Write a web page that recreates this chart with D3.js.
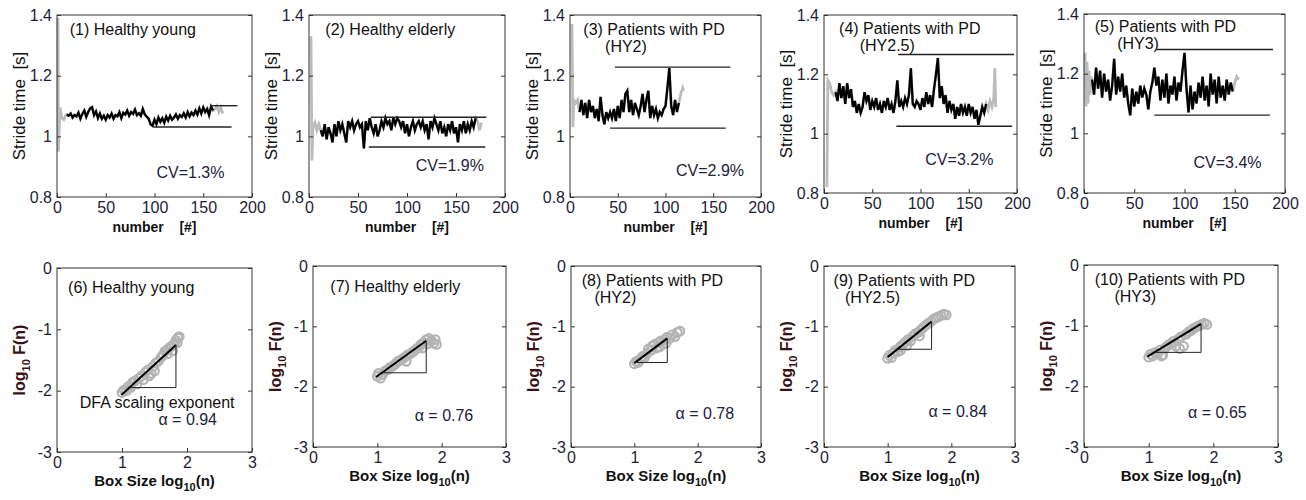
<!DOCTYPE html>
<html>
<head>
<meta charset="utf-8">
<script src="https://cdn.jsdelivr.net/npm/d3@7"></script>
<style>
body { margin: 0; background: #fff; }
text { font-family: "Liberation Sans", Arial, sans-serif; }
</style>
</head>
<body>
<div id="chart"></div>
<script>
// ---- data: stride time series (black = analysed part, every 2nd stride) ----
var blackStart = [10, 12, 10, 12, 8];
var black1 = [1.072,1.068,1.075,1.062,1.070,1.066,1.078,1.058,1.074,1.085,1.064,1.080,1.092,1.096,1.070,1.082,1.060,1.075,1.058,1.068,
              1.055,1.070,1.062,1.075,1.058,1.070,1.066,1.080,1.060,1.078,1.072,1.085,1.068,1.080,1.074,1.088,1.070,1.076,1.068,1.090,
              1.072,1.065,1.058,1.040,1.035,1.055,1.040,1.062,1.048,1.060,1.045,1.065,1.052,1.068,1.055,1.062,1.072,1.058,1.070,1.064,
              1.076,1.062,1.080,1.066,1.078,1.070,1.085,1.072,1.092,1.075,1.095,1.080,1.090,1.070,1.098,1.085];
var black2 = [1.02,1.00,1.04,0.99,1.03,1.01,0.98,1.04,1.00,1.05,1.02,1.04,1.01,0.98,1.05,1.03,1.05,1.02,1.04,1.05,
              1.03,1.04,0.96,1.05,1.02,1.06,1.03,1.01,1.04,1.00,1.02,1.05,1.03,1.06,1.04,1.05,1.02,1.06,1.04,1.06,
              1.05,1.03,1.05,1.01,1.04,1.00,1.03,1.05,1.02,1.04,1.05,1.03,1.05,1.02,1.04,0.99,1.05,1.03,1.06,1.04,
              1.02,1.05,1.01,1.03,1.00,1.04,1.02,1.05,1.01,1.03,0.98,1.04,1.02,1.05,1.01,1.04,1.02,1.05,1.03,1.06];
var black3 = [1.08,1.12,1.07,1.11,1.06,1.12,1.08,1.10,1.06,1.09,1.05,1.13,1.07,1.04,1.08,1.06,1.08,1.06,1.09,1.05,
              1.10,1.06,1.12,1.08,1.14,1.15,1.08,1.12,1.07,1.11,1.09,1.07,1.10,1.14,1.08,1.12,1.15,1.06,1.10,1.07,
              1.09,1.06,1.08,1.07,1.09,1.10,1.16,1.225,1.10,1.07,1.12,1.08,1.11];
var black4 = [1.14,1.11,1.17,1.12,1.16,1.10,1.17,1.12,1.15,1.09,1.11,1.07,1.10,1.07,1.09,1.14,1.11,1.13,1.08,1.11,
              1.09,1.12,1.08,1.10,1.07,1.11,1.09,1.12,1.08,1.10,1.07,1.11,1.18,1.09,1.11,1.09,1.12,1.10,1.13,1.22,
              1.10,1.09,1.11,1.10,1.08,1.12,1.09,1.14,1.10,1.13,1.09,1.15,1.20,1.255,1.12,1.16,1.10,1.13,1.07,1.11,
              1.08,1.10,1.05,1.09,1.06,1.10,1.07,1.09,1.06,1.10,1.07,1.09,1.05,1.08,1.03,1.06,1.09,1.07,1.10];
var black5 = [1.18,1.13,1.22,1.15,1.21,1.12,1.20,1.14,1.18,1.11,1.16,1.25,1.13,1.19,1.14,1.20,1.12,1.16,1.10,1.06,
              1.15,1.09,1.14,1.10,1.16,1.12,1.15,1.13,1.08,1.14,1.17,1.22,1.16,1.19,1.11,1.18,1.12,1.20,1.10,1.16,
              1.13,1.19,1.11,1.17,1.14,1.21,1.27,1.15,1.07,1.16,1.08,1.14,1.10,1.17,1.12,1.19,1.11,1.16,1.09,1.20,
              1.13,1.18,1.10,1.19,1.12,1.16,1.11,1.18,1.13,1.17,1.14];

// gray = discarded strides at start and end, [stride, time]
var grayHead1 = [[1,1.39],[1.5,0.95],[3,1.095],[5,1.06],[7,1.055],[9,1.07]];
var grayTail1 = [[162,1.09],[164,1.10],[166,1.08],[168,1.095],[170,1.075]];
var grayHead2 = [[2,1.33],[3,0.92],[4,1.03],[6,1.045],[8,1.02],[10,1.04]];
var grayTail2 = [[172,1.05],[174,1.02],[176,1.045]];
var grayHead3 = [[2,1.37],[3,1.03],[4,1.12],[6,1.11],[8,1.12]];
var grayTail3 = [[116,1.14],[118,1.16],[119,1.15]];
var grayHead4 = [[3,0.82],[4,1.18],[6,1.17],[8,1.14],[10,1.13]];
var grayTail4 = [[170,1.08],[172,1.11],[174,1.09],[176,1.12],[177,1.22],[178,1.09]];
var grayHead5 = [[1,1.27],[2,1.09],[3,1.24],[4,1.10],[5,1.21],[6,1.13],[7,1.19]];
var grayTail5 = [[150,1.17],[152,1.19],[154,1.18]];

// max / min reference lines [from, to, value]
var upperBand = [[157,185,1.101],[63,181,1.063],[47,168,1.228],[77,197,1.267],[72,188,1.281]];
var lowerBand = [[99,179,1.031],[61,180,0.965],[42,163,1.027],[75,195,1.025],[70,185,1.061]];

var strideTicksX = [0, 50, 100, 150, 200];
var strideTicksY = [0.8, 1, 1.2, 1.4];
var cvLabels = ["CV=1.3%", "CV=1.9%", "CV=2.9%", "CV=3.2%", "CV=3.4%"];
var topTitles = [["(1) Healthy young"], ["(2) Healthy elderly"], ["(3) Patients with PD", "(HY2)"],
                 ["(4) Patients with PD", "(HY2.5)"], ["(5) Patients with PD", "(HY3)"]];

// ---- data: DFA, [log10 box size, log10 F(n)] ----
var dfa6 = [[1.00,-2.03],[1.03,-1.99],[1.07,-2.00],[1.10,-1.93],[1.13,-1.95],[1.16,-1.87],[1.20,-1.84],[1.23,-1.89],[1.26,-1.80],
            [1.30,-1.76],[1.33,-1.82],[1.36,-1.70],[1.40,-1.66],[1.42,-1.76],[1.45,-1.72],[1.48,-1.60],[1.50,-1.68],[1.52,-1.55],
            [1.56,-1.52],[1.60,-1.46],[1.63,-1.42],[1.66,-1.36],[1.70,-1.33],[1.73,-1.30],[1.76,-1.28],[1.80,-1.24],[1.83,-1.18],
            [1.86,-1.14],[1.88,-1.12],[1.85,-1.22],[1.78,-1.35],[1.70,-1.40]];
var dfa7 = [[1.00,-1.83],[1.02,-1.78],[1.05,-1.86],[1.08,-1.80],[1.12,-1.74],[1.16,-1.72],[1.20,-1.68],[1.24,-1.66],[1.28,-1.62],
            [1.32,-1.58],[1.36,-1.56],[1.40,-1.53],[1.44,-1.50],[1.48,-1.47],[1.52,-1.45],[1.45,-1.58],[1.56,-1.42],[1.60,-1.38],
            [1.64,-1.35],[1.68,-1.30],[1.72,-1.27],[1.76,-1.22],[1.80,-1.20],[1.84,-1.24],[1.88,-1.28],[1.92,-1.30],[1.90,-1.22],
            [1.78,-1.29],[1.70,-1.36]];
var dfa8 = [[1.00,-1.62],[1.03,-1.58],[1.06,-1.60],[1.10,-1.54],[1.13,-1.50],[1.16,-1.52],[1.20,-1.45],[1.22,-1.38],[1.26,-1.40],
            [1.28,-1.33],[1.32,-1.30],[1.35,-1.36],[1.38,-1.27],[1.42,-1.24],[1.45,-1.30],[1.48,-1.22],[1.52,-1.18],[1.56,-1.20],
            [1.60,-1.14],[1.64,-1.17],[1.68,-1.10],[1.72,-1.08],[1.50,-1.28],[1.40,-1.34]];
var dfa9 = [[1.00,-1.53],[1.03,-1.48],[1.06,-1.52],[1.09,-1.44],[1.12,-1.40],[1.16,-1.42],[1.20,-1.34],[1.24,-1.30],[1.28,-1.26],
            [1.32,-1.22],[1.36,-1.24],[1.40,-1.16],[1.44,-1.12],[1.48,-1.10],[1.52,-1.06],[1.56,-1.02],[1.60,-0.98],[1.64,-0.95],
            [1.68,-0.92],[1.72,-0.88],[1.76,-0.86],[1.80,-0.84],[1.84,-0.82],[1.88,-0.80],[1.92,-0.81],[1.30,-1.32],[1.20,-1.40],
            [1.50,-1.16]];
var dfa10 = [[1.00,-1.52],[1.03,-1.47],[1.06,-1.50],[1.10,-1.44],[1.14,-1.46],[1.18,-1.40],[1.22,-1.48],[1.26,-1.36],[1.30,-1.32],
             [1.34,-1.30],[1.38,-1.26],[1.42,-1.34],[1.46,-1.22],[1.50,-1.18],[1.54,-1.34],[1.58,-1.14],[1.62,-1.10],[1.66,-1.08],
             [1.70,-1.04],[1.74,-1.02],[1.78,-1.00],[1.82,-0.98],[1.86,-0.96],[1.90,-0.98],[1.20,-1.50],[1.48,-1.38]];

// fitted lines [x0, y0, x1, y1] and slope triangles
var fitLines = [[0.99,-2.07,1.83,-1.255],[0.98,-1.84,1.76,-1.24],[1.00,-1.61,1.52,-1.20],[1.00,-1.51,1.69,-0.92],[0.98,-1.51,1.81,-0.97]];
var slopeTriangles = [
  [[1.12,-1.95],[1.83,-1.95],[1.83,-1.255]],
  [[1.08,-1.77],[1.76,-1.77],[1.76,-1.24]],
  [[1.00,-1.60],[1.52,-1.60],[1.52,-1.20]],
  [[1.15,-1.38],[1.69,-1.38],[1.69,-0.92]],
  [[1.10,-1.44],[1.81,-1.44],[1.81,-0.97]]
];
var dfaTicksX = [0, 1, 2, 3];
var dfaTicksY = [-3, -2, -1, 0];
var alphaLabels = ["α = 0.94", "α = 0.76", "α = 0.78", "α = 0.84", "α = 0.65"];
var bottomTitles = [["(6) Healthy young"], ["(7) Healthy elderly"], ["(8) Patients with PD", "(HY2)"],
                    ["(9) Patients with PD", "(HY2.5)"], ["(10) Patients with PD", "(HY3)"]];

// ---- layout ----
var topFrames = [[57,15,195,182],[309,15,196,182],[570,15,191,182],[824,15,193,178],[1084,14,201,179]];
var bottomFrames = [[57,268,195,184],[313,266,193,181],[571,266,190,181],[824,266,191,181],[1084,265,194,182]];
var topTitlePos = [[13,1.335],[16.7,1.333],[14,1.335],[15.6,1.337],[10.7,1.339]];
var topTitle2X = [0, 0, 36.7, 37, 33];
var cvPos = [[102,0.863],[109,0.885],[111,0.868],[105,0.893],[109,0.883]];
var bottomTitlePos = [[0.17,-0.41],[0.27,-0.43],[0.17,-0.33],[0.15,-0.33],[0.165,-0.33]];
var bottomTitle2X = [0, 0, 0.37, 0.33, 0.47];
var alphaPos = [[1.56,-2.56],[1.58,-2.57],[1.65,-2.53],[1.64,-2.51],[1.61,-2.52]];

var tickColor = '#1e1e38';

var svg = d3.select('#chart').append('svg')
    .attr('width', 1306)
    .attr('height', 500);

function frameAxes(g, x, y, xTicks, yTicks) {
    var x0 = x.range()[0], x1 = x.range()[1], y0 = y.range()[0], y1 = y.range()[1];

    g.append('g')
        .attr('transform', 'translate(0,' + y0 + ')')
        .call(d3.axisBottom(x).tickValues(xTicks).tickSizeInner(-4).tickSizeOuter(0).tickPadding(5).tickFormat(d => String(d)));
    g.append('g')
        .attr('transform', 'translate(' + x0 + ',0)')
        .call(d3.axisLeft(y).tickValues(yTicks).tickSizeInner(-4).tickSizeOuter(0).tickPadding(5).tickFormat(d => String(d)));
    g.append('g')
        .attr('transform', 'translate(' + x1 + ',0)')
        .call(d3.axisRight(y).tickValues(yTicks).tickSizeInner(-4).tickSizeOuter(0).tickFormat(''));

    g.selectAll('.domain').remove();
    g.selectAll('.tick line').attr('stroke', '#333');
    g.selectAll('.tick text')
        .attr('font-family', '"Liberation Sans", Arial, sans-serif')
        .attr('font-size', 16)
        .attr('fill', tickColor);

    g.append('rect')
        .attr('x', x0).attr('y', y1)
        .attr('width', x1 - x0).attr('height', y0 - y1)
        .attr('fill', 'none')
        .attr('stroke', '#333')
        .attr('stroke-width', 1);
}

function addTitle(g, lines, x, y, px, py, x2) {
    g.append('text')
        .attr('x', x(px)).attr('y', y(py))
        .attr('font-size', 16).attr('fill', '#111')
        .text(lines[0]);
    if (lines.length > 1) {
        g.append('text')
            .attr('x', x(x2)).attr('y', y(py) + 17)
            .attr('font-size', 16).attr('fill', '#111')
            .text(lines[1]);
    }
}

// ---- top row: stride time series ----
var blacks = [black1, black2, black3, black4, black5];
var heads = [grayHead1, grayHead2, grayHead3, grayHead4, grayHead5];
var tails = [grayTail1, grayTail2, grayTail3, grayTail4, grayTail5];

topFrames.forEach(function (f, i) {
    var g = svg.append('g');
    var x = d3.scaleLinear().domain([0, 200]).range([f[0], f[0] + f[2]]);
    var y = d3.scaleLinear().domain([0.8, 1.4]).range([f[1] + f[3], f[1]]);

    var blackPts = blacks[i].map((v, k) => [blackStart[i] + k * 2, v]);
    var grayPts = heads[i].concat(blackPts, tails[i]);
    var line = d3.line().x(d => x(d[0])).y(d => y(d[1]));

    g.append('path').datum(grayPts)
        .attr('d', line).attr('fill', 'none')
        .attr('stroke', '#bcbcbc').attr('stroke-width', 2.8);
    g.append('path').datum(blackPts)
        .attr('d', line).attr('fill', 'none')
        .attr('stroke', '#000').attr('stroke-width', 2.3)
        .attr('stroke-linejoin', 'miter');

    [upperBand[i], lowerBand[i]].forEach(function (b) {
        g.append('line')
            .attr('x1', x(b[0])).attr('x2', x(b[1]))
            .attr('y1', y(b[2])).attr('y2', y(b[2]))
            .attr('stroke', '#222').attr('stroke-width', 1.4);
    });

    frameAxes(g, x, y, strideTicksX, strideTicksY);
    addTitle(g, topTitles[i], x, y, topTitlePos[i][0], topTitlePos[i][1], topTitle2X[i]);

    g.append('text')
        .attr('x', x(cvPos[i][0])).attr('y', y(cvPos[i][1]))
        .attr('font-size', 16).attr('fill', '#22223a')
        .text(cvLabels[i]);

    // axis labels
    g.append('text')
        .attr('transform', 'translate(' + (f[0] - 32) + ',' + (f[1] + f[3] / 2) + ') rotate(-90)')
        .attr('text-anchor', 'middle')
        .attr('font-size', 17).attr('fill', '#111')
        .style('white-space', 'pre')
        .text('Stride time  [s]');
    g.append('text')
        .attr('x', f[0] + f[2] / 2).attr('y', f[1] + f[3] + 35)
        .attr('text-anchor', 'middle')
        .attr('font-size', 14).attr('font-weight', 'bold').attr('fill', '#111')
        .style('white-space', 'pre')
        .text('number    [#]');
});

// ---- bottom row: DFA ----
var dfaSets = [dfa6, dfa7, dfa8, dfa9, dfa10];

bottomFrames.forEach(function (f, i) {
    var g = svg.append('g');
    var x = d3.scaleLinear().domain([0, 3]).range([f[0], f[0] + f[2]]);
    var y = d3.scaleLinear().domain([-3, 0]).range([f[1] + f[3], f[1]]);

    g.selectAll('circle').data(dfaSets[i]).enter()
        .append('circle')
        .attr('cx', d => x(d[0])).attr('cy', d => y(d[1]))
        .attr('r', 4.3)
        .attr('fill', 'none')
        .attr('stroke', '#b4b4b4').attr('stroke-width', 2.2);

    var fl = fitLines[i];
    g.append('line')
        .attr('x1', x(fl[0])).attr('y1', y(fl[1]))
        .attr('x2', x(fl[2])).attr('y2', y(fl[3]))
        .attr('stroke', '#000').attr('stroke-width', 2);

    g.append('path').datum(slopeTriangles[i])
        .attr('d', d3.line().x(d => x(d[0])).y(d => y(d[1])))
        .attr('fill', 'none').attr('stroke', '#222').attr('stroke-width', 1);

    frameAxes(g, x, y, dfaTicksX, dfaTicksY);
    addTitle(g, bottomTitles[i], x, y, bottomTitlePos[i][0], bottomTitlePos[i][1], bottomTitle2X[i]);

    if (i === 0) {
        g.append('text')
            .attr('x', x(0.35)).attr('y', y(-2.29))
            .attr('font-size', 16).attr('fill', '#111')
            .text('DFA scaling exponent');
    }
    g.append('text')
        .attr('x', x(alphaPos[i][0])).attr('y', y(alphaPos[i][1]))
        .attr('font-size', 16).attr('fill', '#22223a')
        .text(alphaLabels[i]);

    // y label log10 F(n)
    var yl = g.append('text')
        .attr('transform', 'translate(' + (f[0] - 32) + ',' + (f[1] + f[3] / 2) + ') rotate(-90)')
        .attr('text-anchor', 'middle')
        .attr('font-size', 16).attr('font-weight', 'bold').attr('fill', '#3a1216');
    yl.append('tspan').text('log');
    yl.append('tspan').attr('font-size', 11).attr('dy', 5).text('10');
    yl.append('tspan').attr('dy', -5).text(' F(n)');

    // x label Box Size log10(n)
    var xl = g.append('text')
        .attr('x', f[0] + f[2] / 2).attr('y', f[1] + f[3] + 34)
        .attr('text-anchor', 'middle')
        .attr('font-size', 15).attr('font-weight', 'bold').attr('fill', '#111');
    xl.append('tspan').text('Box Size log');
    xl.append('tspan').attr('font-size', 11).attr('dy', 5).text('10');
    xl.append('tspan').attr('dy', -5).text('(n)');
});
</script>
</body>
</html>
